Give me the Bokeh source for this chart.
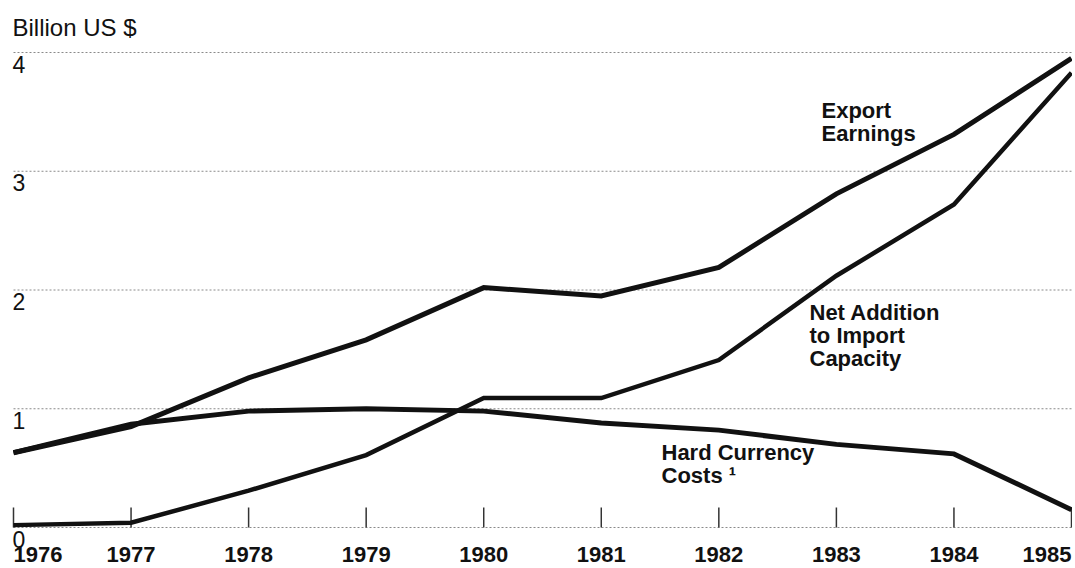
from bokeh.plotting import figure
from bokeh.models import Range1d, ColumnDataSource
from bokeh.core.properties import value
from bokeh.embed import file_html
from bokeh.resources import INLINE

# ---- data ----
years = [1976, 1977, 1978, 1979, 1980, 1981, 1982, 1983, 1984, 1985]
export_earnings = [0.63, 0.85, 1.26, 1.58, 2.02, 1.95, 2.19, 2.81, 3.31, 3.95]
net_addition = [0.02, 0.04, 0.31, 0.61, 1.09, 1.09, 1.41, 2.12, 2.72, 3.83]
hard_currency = [0.63, 0.87, 0.98, 1.00, 0.98, 0.88, 0.82, 0.70, 0.62, 0.15]
y_ticks = [0, 1, 2, 3, 4]
y_tick_labels = ["0", "1", "2", "3", "4"]
year_labels = [str(y) for y in years]
unit_label = "Billion US $"
series_labels = ["Export\nEarnings", "Net Addition\nto Import\nCapacity", "Hard Currency\nCosts \u00b9"]

W, H = 1072, 566
# screen mapping (figure px)
x_left_px, x_right_px = 13, 1071
px_per_year = (x_right_px - x_left_px) / (years[-1] - years[0])
x0 = years[0] - x_left_px / px_per_year
x1 = years[-1] + (W - x_right_px) / px_per_year
px_per_unit = 118.75
base_px = 527
y0 = -(H - base_px) / px_per_unit
y1 = base_px / px_per_unit

p = figure(width=W, height=H, output_backend="svg", toolbar_location=None,
           x_range=Range1d(x0, x1), y_range=Range1d(y0, y1),
           min_border=0, min_border_left=0, min_border_right=0,
           min_border_top=0, min_border_bottom=0)
p.axis.visible = False
p.xgrid.visible = False
p.ygrid.visible = False
p.outline_line_color = None
p.background_fill_color = "white"
p.border_fill_color = "white"

INK = "#111111"
FONT = value("Liberation Sans")

# dotted gridlines
p.segment(x0=[years[0]] * len(y_ticks), x1=[years[-1]] * len(y_ticks),
          y0=y_ticks, y1=y_ticks, line_color="#8a8a8a", line_width=1,
          line_dash="2 2")

# year tick marks (upward from baseline)
tick_h = 20 / px_per_unit
p.segment(x0=years, x1=years, y0=[0] * len(years), y1=[tick_h] * len(years),
          line_color="#333333", line_width=1.5)

# series lines
p.line(years, hard_currency, line_color=INK, line_width=5, line_join="miter")
p.line(years, export_earnings, line_color=INK, line_width=5, line_join="miter")
p.line(years, net_addition, line_color=INK, line_width=4.5, line_join="miter")

# y tick labels (inside the plot, under each gridline)
p.text(x=[years[0] - 1 / px_per_year] * len(y_ticks), y=y_ticks, text=y_tick_labels,
       text_font=FONT, text_font_size="23px", text_color=INK,
       text_align="left", text_baseline="top", y_offset=3)

# year labels
aligns = ["left"] + ["center"] * (len(years) - 2) + ["right"]
ysrc = ColumnDataSource(dict(x=years, y=[0] * len(years), t=year_labels, a=aligns))
p.text(x="x", y="y", text="t", source=ysrc, text_align="a",
       text_font=FONT, text_font_size="22px", text_font_style="bold",
       text_color=INK, text_baseline="top", y_offset=19)

# label placement helpers (screen px -> data)
def yr(px):
    return years[0] + (px - x_left_px) / px_per_year
def val(py):
    return (base_px - py) / px_per_unit

p.text(x=[yr(12)], y=[val(13)], text=[unit_label], text_font=FONT,
       text_font_size="24px", text_color=INK, text_align="left",
       text_baseline="top")

# series labels
p.text(x=[yr(821), yr(809), yr(661)], y=[val(97), val(299), val(439)],
       text=series_labels, text_font=FONT, text_font_size="22px",
       text_font_style="bold", text_color=INK, text_align="left",
       text_baseline="top", text_line_height=0.93)

open("out.html", "w").write(file_html(p, INLINE))
